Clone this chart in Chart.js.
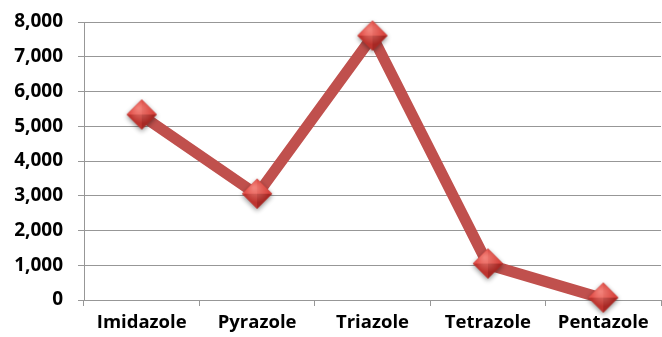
<!DOCTYPE html>
<html>
<head>
<meta charset="utf-8">
<script src="https://cdn.jsdelivr.net/npm/chart.js@4"></script>
<style>
  html, body { margin: 0; padding: 0; background: #fff; }
  #wrap { width: 662px; height: 337px; position: relative; }
</style>
</head>
<body>
<div id="wrap"><canvas id="azoleChart"></canvas></div>
<script>
// ----------------------------------------
// Data
// ----------------------------------------
const categories = ['Imidazole', 'Pyrazole', 'Triazole', 'Tetrazole', 'Pentazole'];
const values = [5310, 3030, 7580, 1020, 40];
const yTicks = [0, 1000, 2000, 3000, 4000, 5000, 6000, 7000, 8000];

const LINE_RED = '#c0504d';
const GRID_GRAY = '#979797';
const FONT = "'Open Sans', sans-serif";

// ----------------------------------------
// Shaded diamond marker (drawn once, used as pointStyle)
// ----------------------------------------
function makeDiamond() {
  const c = document.createElement('canvas');
  c.width = 44; c.height = 44;
  const g = c.getContext('2d');
  const cx = 22, cy = 21, r = 15;

  g.save();
  g.shadowColor = 'rgba(0,0,0,0.45)';
  g.shadowBlur = 5;
  g.shadowOffsetY = 2;
  g.beginPath();
  g.moveTo(cx, cy - r); g.lineTo(cx + r, cy); g.lineTo(cx, cy + r); g.lineTo(cx - r, cy);
  g.closePath();
  g.fillStyle = '#b8332e';
  g.fill();
  g.restore();

  // facets
  const facets = [
    [[cx, cy - r], [cx - r, cy], '#e2504a'],
    [[cx, cy - r], [cx + r, cy], '#d8433d'],
    [[cx + r, cy], [cx, cy + r], '#a72824'],
    [[cx, cy + r], [cx - r, cy], '#bd342f']
  ];
  facets.forEach(([a, b, col]) => {
    g.beginPath();
    g.moveTo(cx, cy); g.lineTo(a[0], a[1]); g.lineTo(b[0], b[1]);
    g.closePath();
    g.fillStyle = col;
    g.fill();
  });

  // soft highlight on top
  const hl = g.createRadialGradient(cx - 3, cy - 6, 1, cx, cy - 3, 12);
  hl.addColorStop(0, 'rgba(255,170,160,0.55)');
  hl.addColorStop(1, 'rgba(255,170,160,0)');
  g.beginPath();
  g.moveTo(cx, cy - r); g.lineTo(cx + r, cy); g.lineTo(cx, cy + r); g.lineTo(cx - r, cy);
  g.closePath();
  g.fillStyle = hl;
  g.fill();
  return c;
}

const diamond = makeDiamond();

// ----------------------------------------
// Chart
// ----------------------------------------
new Chart(document.getElementById('azoleChart'), {
  type: 'line',
  data: {
    labels: categories,
    datasets: [{
      data: values,
      borderColor: LINE_RED,
      borderWidth: 11,
      tension: 0,
      fill: false,
      clip: false,
      pointStyle: diamond,
      pointRadius: 15,
      pointHoverRadius: 15
    }]
  },
  options: {
    responsive: true,
    maintainAspectRatio: false,
    animation: false,
    events: [],
    layout: {
      autoPadding: false,
      padding: { top: 22, right: 1, left: 0, bottom: 0 }
    },
    plugins: {
      legend: { display: false },
      tooltip: { enabled: false }
    },
    scales: {
      x: {
        offset: true,
        grid: {
          offset: true,
          drawOnChartArea: false,
          drawTicks: true,
          tickLength: 6,
          color: GRID_GRAY
        },
        border: { color: GRID_GRAY, width: 1 },
        ticks: {
          color: '#000',
          padding: 6,
          maxRotation: 0,
          autoSkip: false,
          font: { family: FONT, size: 18.5, weight: 'bold' }
        },
        afterFit: (scale) => {
          scale.height = 37;
          scale.paddingLeft = 0;
          scale.paddingRight = 0;
        }
      },
      y: {
        min: 0,
        max: 8000,
        afterBuildTicks: (scale) => { scale.ticks = yTicks.map(v => ({ value: v })); },
        grid: {
          color: GRID_GRAY,
          drawTicks: true,
          tickLength: 6
        },
        border: { color: GRID_GRAY, width: 1 },
        ticks: {
          color: '#000',
          padding: 15,
          font: { family: FONT, size: 19, weight: 'bold' },
          callback: (v) => v.toLocaleString('en-US')
        },
        afterFit: (scale) => {
          scale.width = 84;
          scale.paddingTop = 0;
          scale.paddingBottom = 0;
        }
      }
    }
  }
});
</script>
</body>
</html>
